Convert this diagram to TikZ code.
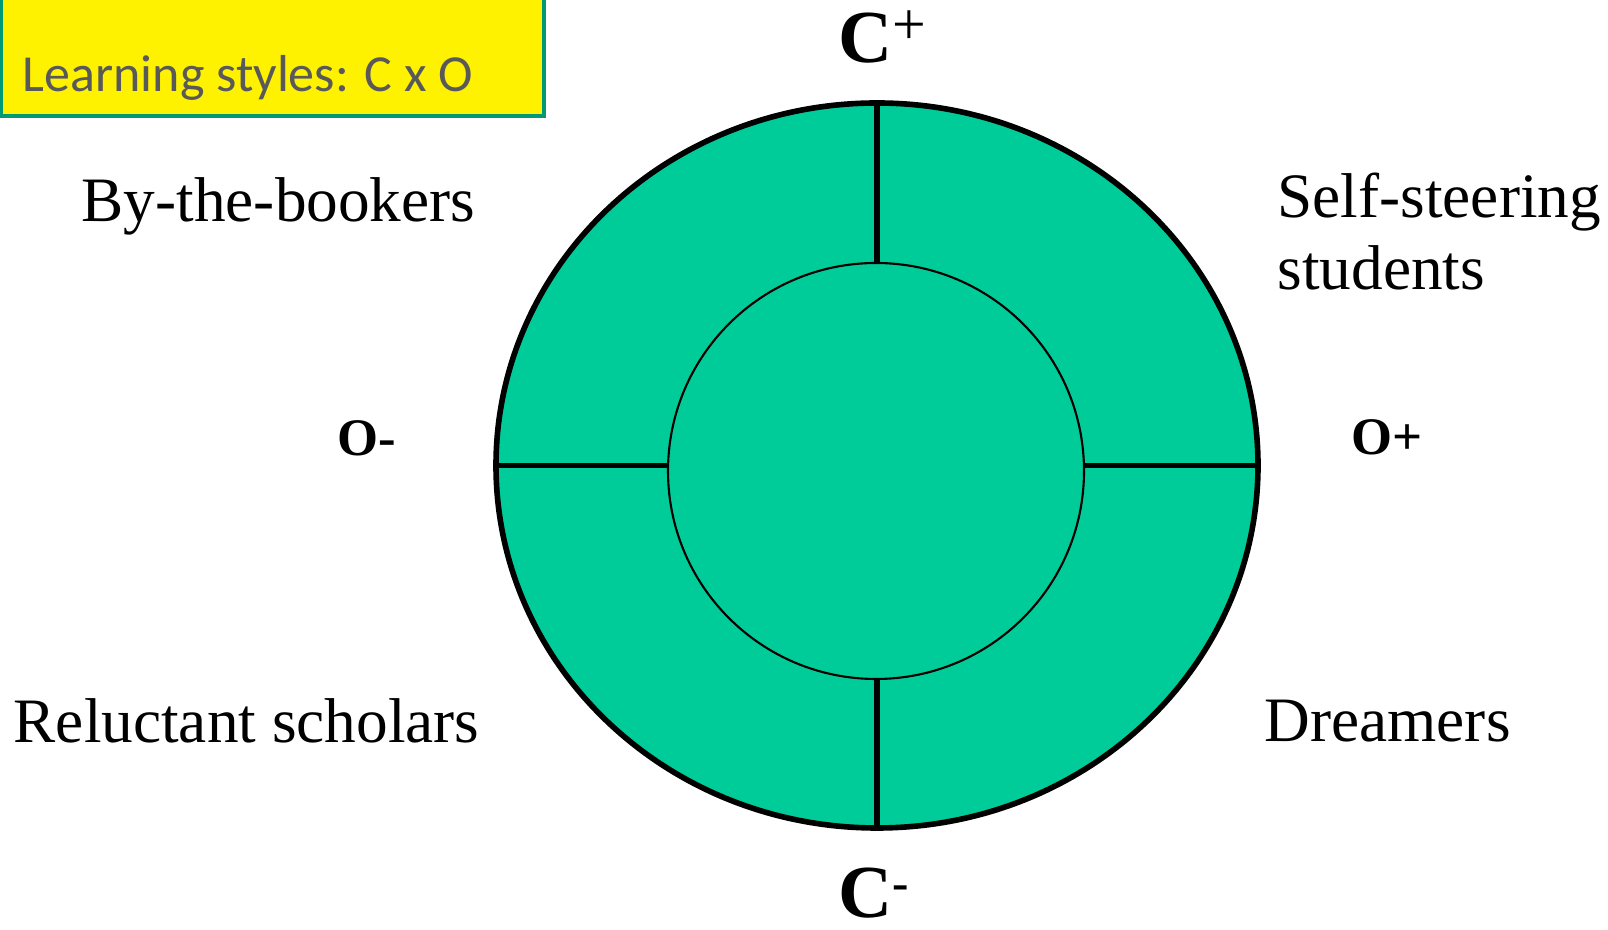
\documentclass[tikz,border=0pt]{standalone}
\usepackage{fontspec}
\setmainfont{Liberation Serif}
\newfontfamily\boxfont{Carlito}
\usepackage{tikz}
\usetikzlibrary{shapes.geometric,positioning}
\definecolor{ringgreen}{RGB}{0,204,153}
\definecolor{boxedge}{RGB}{0,153,115}
\definecolor{boxtext}{RGB}{89,89,89}
\newcommand{\axissup}[3]{\raisebox{#1}{\fontsize{#2}{#2}\selectfont #3}}
\tikzset{
    %Define style for the outer ring
    ring/.style={
           ellipse,
           draw=black,
           line width=1.6pt,
           fill=ringgreen,
           inner sep=0pt, outer sep=0pt,
           minimum width=7.62cm,
           minimum height=7.25cm},
    hub/.style={
           circle,
           draw=black,
           line width=0.6pt,
           fill=ringgreen,
           inner sep=0pt, outer sep=0pt,
           minimum size=4.16cm},
    % Define line style
    spoke/.style={
           draw=black,
           line width=1.6pt},
    titlebox/.style={
           rectangle,
           draw=boxedge,
           line width=1.2pt,
           fill=yellow},
    titletext/.style={
           inner sep=0pt,
           text=boxtext,
           font=\boxfont\fontsize{14.8}{18}\selectfont},
    axislabel/.style={
           inner sep=0pt,
           font=\bfseries\fontsize{15}{18}\selectfont},
    bigaxis/.style={
           inner sep=0pt,
           font=\fontsize{21.3}{24}\selectfont},
    stylelabel/.style={
           inner sep=0pt,
           align=left,
           font=\fontsize{18}{20.7}\selectfont}
}
\begin{document}
\begin{tikzpicture}
\useasboundingbox (0,0) rectangle (16.08,9.30);

 %title box
\draw[titlebox] (0.01,8.14) rectangle (5.44,9.60);
\node[titletext, anchor=base west](title) at (0.22,8.38){Learning styles: C x O};

 %rings
\node[ring](outer) at (8.77,4.645){};
\node[hub](inner) at (8.76,4.59){};

\path[spoke]
    (outer.north) edge (outer.north |- inner.north)
    (outer.south) edge (outer.south |- inner.south)
    (outer.west) edge (outer.west -| inner.west)
    (outer.east) edge (outer.east -| inner.east);

 %axes
\node[bigaxis, anchor=base west](cplus) at (8.38,8.67){\textbf{C}\axissup{5.4pt}{17}{+}};
\node[bigaxis, anchor=base west](cminus) at (8.38,0.12){\textbf{C}\axissup{5.4pt}{14}{\textbf{-}}};
\node[axislabel, anchor=base west](ominus) at (3.37,4.74){O-};
\node[axislabel, anchor=base west](oplus) at (13.51,4.75){O+};

 %learning styles
\node[stylelabel, anchor=base east](bookers) at (4.76,7.08){By-the-bookers};
\node[stylelabel, anchor=base west](steering) at (12.77,6.40){Self-steering\\students};
\node[stylelabel, anchor=base east](reluctant) at (4.80,1.87){Reluctant scholars};
\node[stylelabel, anchor=base west](dreamers) at (12.64,1.88){Dreamers};
\end{tikzpicture}
\end{document}
